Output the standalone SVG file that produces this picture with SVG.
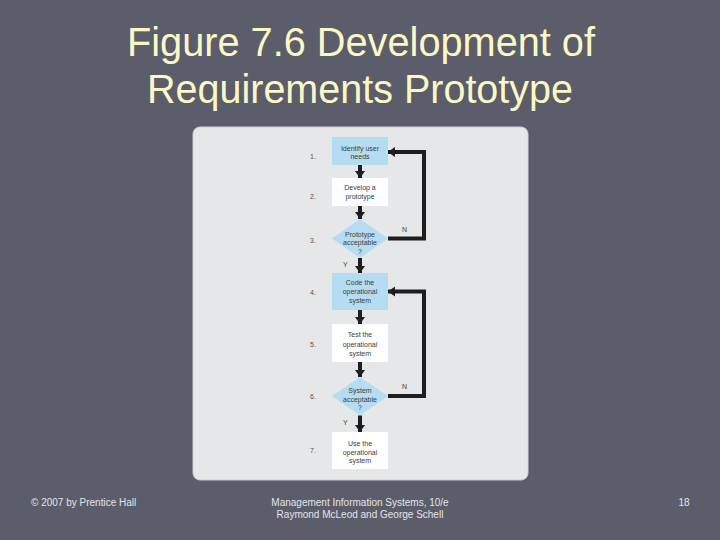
<svg xmlns="http://www.w3.org/2000/svg" width="720" height="540" viewBox="0 0 720 540">
<defs>
<marker id="ah" viewBox="0 0 10 10" refX="10" refY="5" markerWidth="1.8" markerHeight="2.6" orient="auto" preserveAspectRatio="none">
<path d="M0,0 L10,5 L0,10 z" fill="#1e1e1e"/>
</marker>
</defs>
<style>
.title{font-family:"Liberation Sans","DejaVu Sans",sans-serif;font-size:40px;fill:#fbf8c6;text-anchor:middle}
.foot{font-family:"Liberation Sans","DejaVu Sans",sans-serif;font-size:10px;fill:#e4e4e8}
.blue{fill:#b6dcf3}
.white{fill:#ffffff}
.t{font-family:"Liberation Sans","DejaVu Sans",sans-serif;font-size:7px;fill:#3c3c3c;text-anchor:middle}
.num{font-family:"Liberation Sans","DejaVu Sans",sans-serif;font-size:7px;fill:#555}
.lbl{font-family:"Liberation Sans","DejaVu Sans",sans-serif;font-size:7px;fill:#444}
.c{fill:none;stroke:#1e1e1e;stroke-width:4;stroke-linejoin:miter}
</style>
<rect width="720" height="540" fill="#5b5d6b"/>
<text class="title" x="361" y="56" textLength="468" lengthAdjust="spacingAndGlyphs">Figure 7.6 Development of</text>
<text class="title" x="360" y="103" textLength="426" lengthAdjust="spacingAndGlyphs">Requirements Prototype</text>
<rect x="193" y="127" width="335" height="353" rx="7" fill="#e6e7e9" stroke="#cfd0d3" stroke-width="1"/>
<g id="numbers">
<text class="num" x="310" y="159">1.</text>
<text class="num" x="310" y="198.5">2.</text>
<text class="num" x="310" y="242.5">3.</text>
<text class="num" x="310" y="295">4.</text>
<text class="num" x="310" y="346.5">5.</text>
<text class="num" x="310" y="399">6.</text>
<text class="num" x="310" y="452.5">7.</text>
</g>
<g id="n1"><rect class="blue" x="332" y="137" width="56" height="28"/>
<text class="t" x="360" y="150.5">Identify user</text><text class="t" x="360" y="159">needs</text></g>
<g id="n2"><rect class="white" x="332" y="178" width="56" height="28"/>
<text class="t" x="360" y="189.5">Develop a</text><text class="t" x="360" y="198.5">prototype</text></g>
<g id="n3"><polygon class="blue" points="360,219 388,238.5 360,258 332,238.5"/>
<text class="t" x="360" y="236.5">Prototype</text><text class="t" x="360" y="245">acceptable</text><text class="t" x="360" y="253.5">?</text></g>
<g id="n4"><rect class="blue" x="332" y="273" width="56" height="37"/>
<text class="t" x="360" y="284.8">Code the</text><text class="t" x="360" y="293.8">operational</text><text class="t" x="360" y="303">system</text></g>
<g id="n5"><rect class="white" x="332" y="324" width="56" height="38"/>
<text class="t" x="360" y="336.8">Test the</text><text class="t" x="360" y="346.5">operational</text><text class="t" x="360" y="355.8">system</text></g>
<g id="n6"><polygon class="blue" points="360,377 388,396 360,415.5 332,396"/>
<text class="t" x="360" y="392.5">System</text><text class="t" x="360" y="401.5">acceptable</text><text class="t" x="360" y="410">?</text></g>
<g id="n7"><rect class="white" x="332" y="432" width="56" height="37"/>
<text class="t" x="360" y="445.8">Use the</text><text class="t" x="360" y="454.8">operational</text><text class="t" x="360" y="463.2">system</text></g>
<g id="connectors">
<line class="c" x1="360" y1="165" x2="360" y2="178" marker-end="url(#ah)"/>
<line class="c" x1="360" y1="206" x2="360" y2="219" marker-end="url(#ah)"/>
<line class="c" x1="360" y1="258" x2="360" y2="273" marker-end="url(#ah)"/>
<line class="c" x1="360" y1="310" x2="360" y2="324" marker-end="url(#ah)"/>
<line class="c" x1="360" y1="362" x2="360" y2="377" marker-end="url(#ah)"/>
<line class="c" x1="360" y1="415.5" x2="360" y2="432" marker-end="url(#ah)"/>
<polyline class="c" points="388,238.5 424,238.5 424,152 388,152" marker-end="url(#ah)"/>
<polyline class="c" points="388,396 424,396 424,291.5 388,291.5" marker-end="url(#ah)"/>
<text class="lbl" x="402" y="231.5">N</text>
<text class="lbl" x="343" y="266.5">Y</text>
<text class="lbl" x="402" y="389">N</text>
<text class="lbl" x="343" y="425">Y</text>
</g>
<text class="foot" x="31" y="505.5">© 2007 by Prentice Hall</text>
<text class="foot" x="360" y="505.5" text-anchor="middle">Management Information Systems, 10/e</text>
<text class="foot" x="360" y="517.5" text-anchor="middle">Raymond McLeod and George Schell</text>
<text class="foot" x="684" y="505.5" text-anchor="middle">18</text>
</svg>
